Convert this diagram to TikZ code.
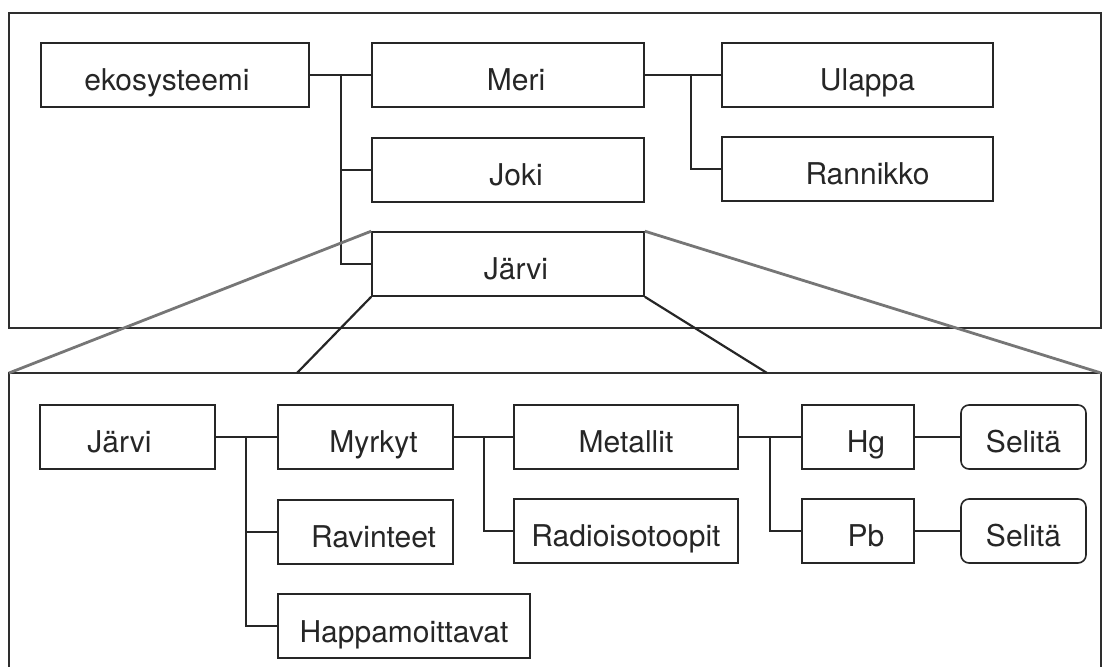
\documentclass[tikz,border=0pt]{standalone}
\usepackage{fontspec}
\setmainfont{TeX Gyre Heros}
\usetikzlibrary{calc}
\definecolor{ekInk}{HTML}{262626}
\definecolor{ekFrame}{HTML}{2E2E2E}
\definecolor{ekGray}{HTML}{767676}
\tikzset{
 tree/.style={font=\fontsize{15}{18}\selectfont,line cap=butt,line join=miter,text=ekInk},
 box/.style={rectangle,draw=ekInk,fill=white,line width=.8pt,inner sep=0pt,minimum height=32pt,
   text height=16pt,text depth=0pt},
 soft/.style={box,rounded corners=4pt},
 pushR/.style={execute at begin node={\hskip#1}},
 pushL/.style={execute at end node={\hskip#1}},
 link/.style={draw=ekInk,line width=.8pt},
 frame/.style={draw=ekFrame,line width=.75pt},
 zoomA/.style={draw=ekGray,line width=1.4pt},
 zoomB/.style={draw=ekInk,line width=1.1pt}
}
\begin{document}
\begin{tikzpicture}[tree,x=.5pt,y=-.5pt]
 \useasboundingbox (0,0) rectangle (1103,667);
 % upper panel
 \draw[frame] (9,13) rectangle (1101,328);
 \node[box,pushL=8pt,minimum width=134pt] (eko) at (175,75) {ekosysteemi};
 \node[box,pushR=8pt,minimum width=136pt] (meri) at (508,75) {Meri};
 \node[box,pushR=8pt,minimum width=136pt] (joki) at (508,170) {Joki};
 \node[box,pushR=8pt,minimum width=136pt] (jarviT) at (508,264) {Järvi};
 \node[box,pushR=10pt,minimum width=135.5pt] (ulappa) at (857.5,75) {Ulappa};
 \node[box,pushR=10pt,minimum width=135.5pt] (rannikko) at (857.5,169) {Rannikko};
 \coordinate (t1) at (341,75); \coordinate (t2) at (691,75);
 \draw[link] (eko.east) -- (meri.west);
 \draw[link] (t1) |- (joki.west); \draw[link] (t1) |- (jarviT.west);
 \draw[link] (meri.east) -- (ulappa.west);
 \draw[link] (t2) |- (rannikko.west);
 % lower panel
 \coordinate (bl) at (9,373); \coordinate (br) at (1101,373);
 \coordinate (ml) at (297,373); \coordinate (mr) at (767,373);
 \draw[frame] (9,667) -- (bl) -- (br) -- (1101,667);
 \node[box,pushL=8pt,minimum width=87.5pt] (jarviB) at (127.5,437) {Järvi};
 \node[box,pushR=8pt,minimum width=87.5pt] (myrkyt) at (365.5,437) {Myrkyt};
 \node[box,pushR=8pt,minimum width=87.5pt] (ravinteet) at (365.5,532) {Ravinteet};
 \node[box,minimum width=126pt] (happa) at (404,626) {Happamoittavat};
 \node[box,minimum width=112pt] (metallit) at (626,437) {Metallit};
 \node[box,minimum width=112pt] (radio) at (626,531) {Radioisotoopit};
 \node[box,pushR=8pt,minimum width=56pt] (hg) at (858,437) {Hg};
 \node[box,pushR=8pt,minimum width=56pt] (pb) at (858,531) {Pb};
 \node[soft,minimum width=62.5pt] (sel1) at (1023.5,437) {Selitä};
 \node[soft,minimum width=62.5pt] (sel2) at (1023.5,531) {Selitä};
 \coordinate (t3) at (246,437); \coordinate (t4) at (484,437); \coordinate (t5) at (770,437);
 \draw[link] (jarviB.east) -- (myrkyt.west);
 \draw[link] (t3) |- (ravinteet.west); \draw[link] (t3) |- (happa.west);
 \draw[link] (myrkyt.east) -- (metallit.west);
 \draw[link] (t4) |- (radio.west);
 \draw[link] (metallit.east) -- (hg.west);
 \draw[link] (t5) |- (pb.west);
 \draw[link] (hg.east) -- (sel1.west); \draw[link] (pb.east) -- (sel2.west);
 % zoom lines
 \draw[zoomB] (jarviT.south west) -- (ml); \draw[zoomB] (jarviT.south east) -- (mr);
 \draw[zoomA] (jarviT.north west) -- (bl); \draw[zoomA] (jarviT.north east) -- (br);
\end{tikzpicture}
\end{document}
